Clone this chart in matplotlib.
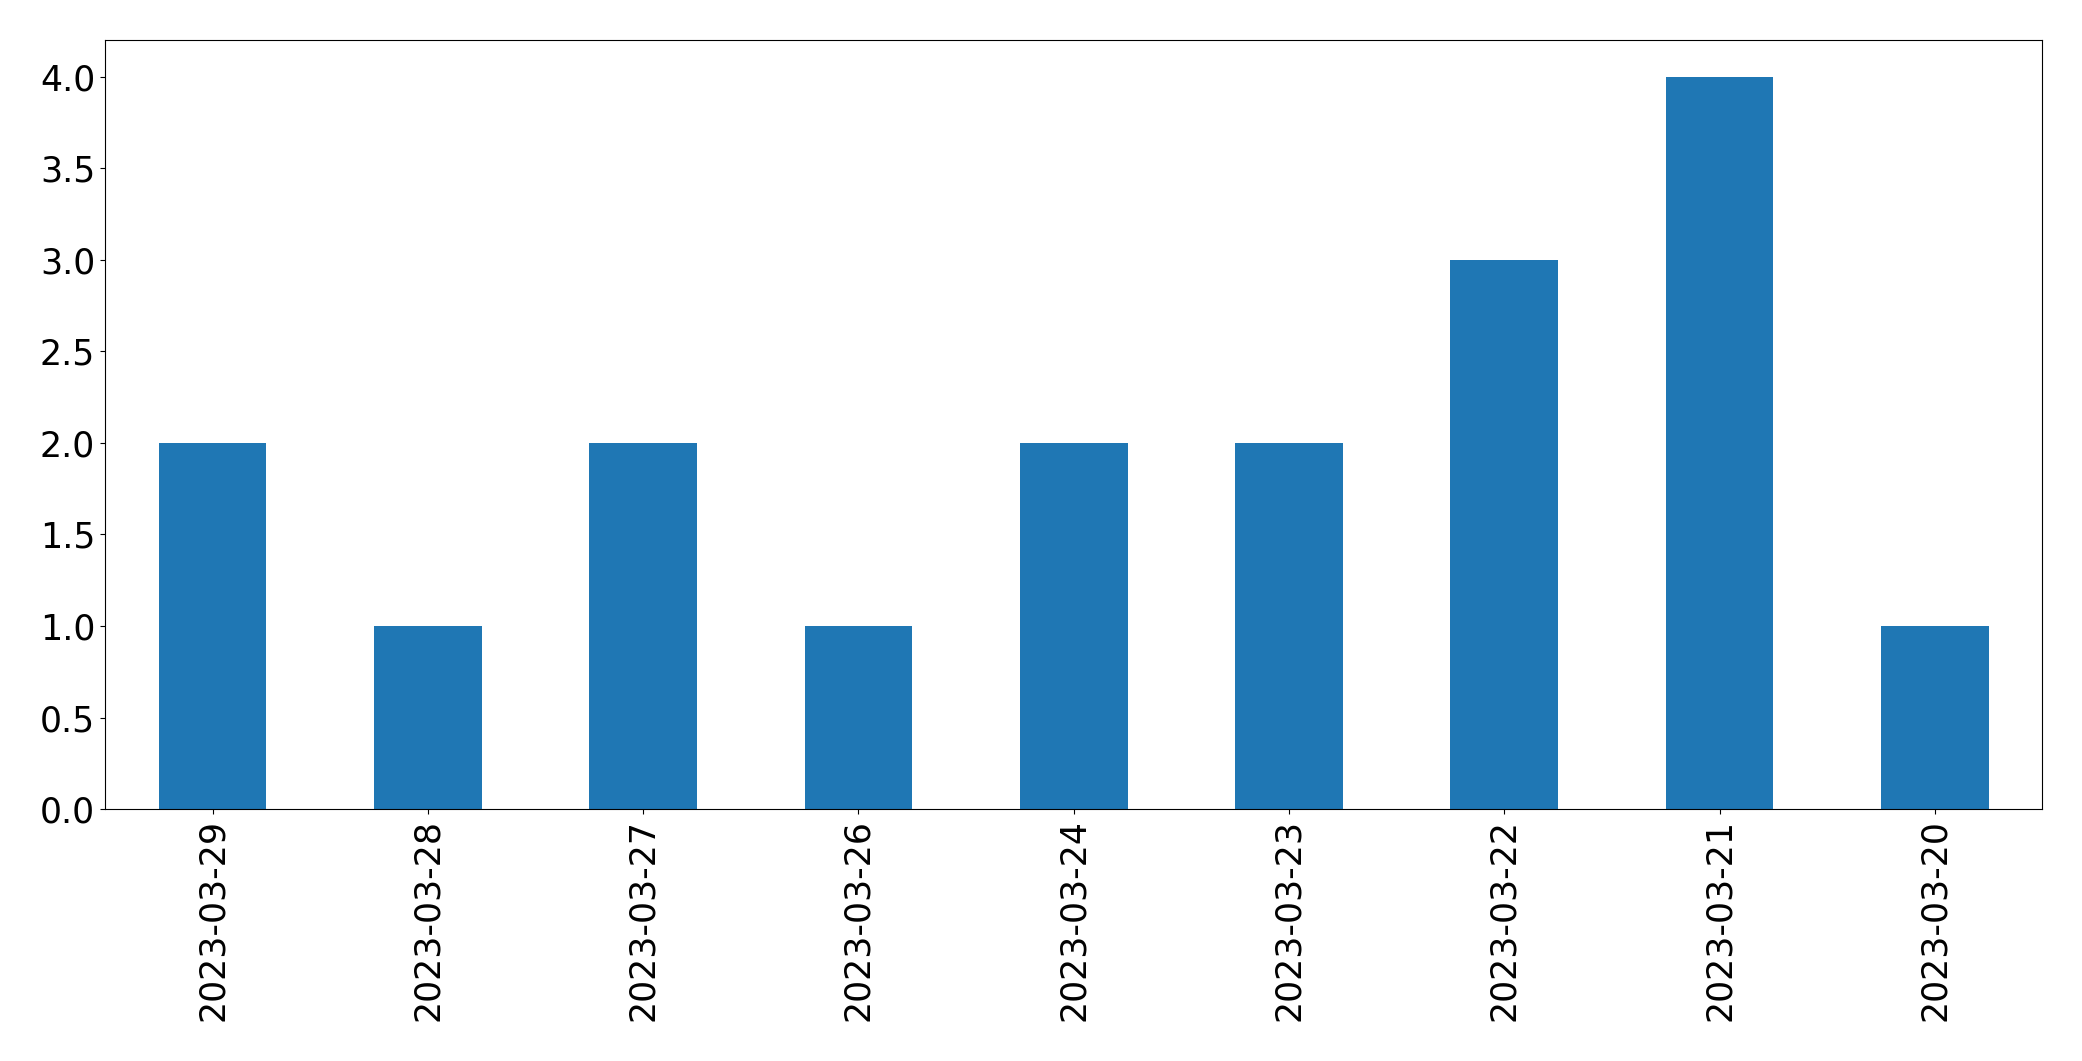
import matplotlib
matplotlib.use('Agg')
import matplotlib.pyplot as plt
import pandas as pd

# data
dates = ['2023-03-29', '2023-03-28', '2023-03-27', '2023-03-26', '2023-03-24',
         '2023-03-23', '2023-03-22', '2023-03-21', '2023-03-20']
counts = [2, 1, 2, 1, 2, 2, 3, 4, 1]

s = pd.Series(counts, index=dates)

fig, ax = plt.subplots(figsize=(20.82, 10.61), dpi=100)
s.plot(kind='bar', ax=ax, color='#1f77b4')
ax.tick_params(axis='both', labelsize=25)
ax.set_yticks([0.0, 0.5, 1.0, 1.5, 2.0, 2.5, 3.0, 3.5, 4.0])
plt.subplots_adjust(left=0.0504, right=0.981, top=0.962, bottom=0.2375)
plt.savefig('out.png', dpi=100)
